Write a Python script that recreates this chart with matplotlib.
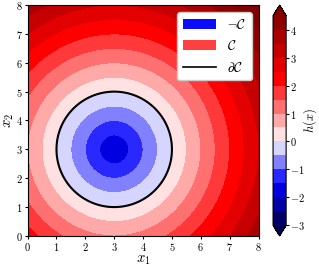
import numpy as np
import matplotlib
matplotlib.use("Agg")
import matplotlib.pyplot as plt
from matplotlib.colors import TwoSlopeNorm
from matplotlib.patches import Patch
from matplotlib.lines import Line2D

# -------------------- data --------------------
center = (3.0, 3.0)     # centre of the safe set
radius = 2.0            # h(x) = ||x - c|| - r
x_range = (0.0, 8.0)
y_range = (0.0, 8.0)
levels = np.arange(-3.0, 4.51, 0.5)
cbar_ticks = [-3, -2, -1, 0, 1, 2, 3, 4]
axis_ticks = [0, 1, 2, 3, 4, 5, 6, 7, 8]

# -------------------- style --------------------
plt.rcParams["font.family"] = "serif"
plt.rcParams["font.serif"] = ["cmr10", "DejaVu Serif"]
plt.rcParams["mathtext.fontset"] = "cm"
plt.rcParams["axes.unicode_minus"] = False
plt.rcParams["axes.formatter.use_mathtext"] = True

x1 = np.linspace(*x_range, 400)
x2 = np.linspace(*y_range, 400)
X1, X2 = np.meshgrid(x1, x2)
H = np.hypot(X1 - center[0], X2 - center[1]) - radius

fig = plt.figure(figsize=(3.19, 2.66), dpi=100)
ax = fig.add_axes([0.085, 0.113, 0.727, 0.868])
cax = fig.add_axes([0.856, 0.113, 0.041, 0.868])

norm = TwoSlopeNorm(vmin=levels[0], vcenter=0.0, vmax=levels[-1])
cf = ax.contourf(X1, X2, H, levels=levels, cmap="seismic", norm=norm, extend="both")
ax.contour(X1, X2, H, levels=[0.0], colors="black", linewidths=1.5)

ax.set_xlim(*x_range)
ax.set_ylim(*y_range)
ax.set_aspect("equal")
ax.set_xticks(axis_ticks)
ax.set_yticks(axis_ticks)
ax.tick_params(labelsize=7.5, length=2, pad=1.5)
ax.set_xlabel(r"$x_1$", fontsize=10.5, labelpad=0)
ax.set_ylabel(r"$x_2$", fontsize=10.5, labelpad=0)

handles = [
    Patch(facecolor="#0a0aff", label=r"$\neg\mathcal{C}$"),
    Patch(facecolor="#ff4040", label=r"$\mathcal{C}$"),
    Line2D([], [], color="black", lw=1.2, label=r"$\partial\mathcal{C}$"),
]
ax.legend(handles=handles, loc="upper right", fontsize=10, framealpha=1,
          handlelength=2.4, borderaxespad=0.5, labelspacing=0.55)

cb = fig.colorbar(cf, cax=cax, ticks=cbar_ticks)
cb.ax.tick_params(labelsize=7.5, length=2, pad=0.5)
cb.set_label(r"$h(x)$", fontsize=9)
cb.ax.yaxis.set_label_coords(2.15, 0.5)

fig.savefig("out.png", dpi=100)
